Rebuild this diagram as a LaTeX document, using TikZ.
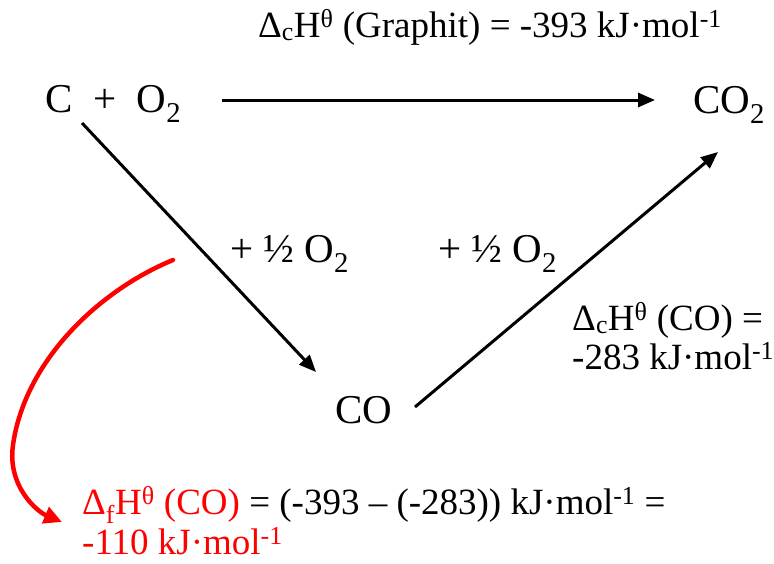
\documentclass[tikz,border=0pt]{standalone}
\usepackage{fontspec}
\setmainfont{Liberation Serif}
\usepackage{xcolor}
\definecolor{penred}{RGB}{255, 0, 0}
\usepackage{tikz}
\usetikzlibrary{arrows.meta}
\tikzset{
  chem/.style={inner sep=0pt, anchor=base west,
    font=\fontsize{41}{48}\selectfont},
  enthalpy/.style={inner sep=0pt, anchor=base west,
    font=\fontsize{37}{44}\selectfont},
  rxnarrow/.style={-{Triangle[length=17pt,width=14pt]}, line width=3pt, black},
  penarrow/.style={-{Triangle[length=18pt,width=17pt]}, line width=4.5pt,
    color=penred, line cap=round, line join=round}
}

\begin{document}
\begin{tikzpicture}[x=1pt, y=-1pt]

  \useasboundingbox (0,0) rectangle (774,563);

  % Species
  \node[chem] (reac) at (45,112)  {C~~+~~O\textsubscript{2}};
  \node[chem] (prod) at (693,113) {CO\textsubscript{2}};
  \node[chem] (mid)  at (335,423) {CO};

  % Enthalpies and reagents
  \node[enthalpy] (dHgr) at (258,37)
    {Δ\textsubscript{c}H\textsuperscript{θ} (Graphit) = -393 kJ·mol\textsuperscript{-1}};
  \node[chem] (oxa) at (230,262) {+ ½ O\textsubscript{2}};
  \node[chem] (oxb) at (438,262) {+ ½ O\textsubscript{2}};
  \node[enthalpy] (dHco) at (572,330)
    {Δ\textsubscript{c}H\textsuperscript{θ} (CO) =};
  \node[enthalpy] (dHcoval) at (572,369) {-283 kJ·mol\textsuperscript{-1}};

  % Result
  \node[enthalpy] (dHf) at (82,514)
    {\textcolor{penred}{Δ\textsubscript{f}H\textsuperscript{θ} (CO)} = (-393 – (-283)) kJ·mol\textsuperscript{-1} =};
  \node[enthalpy, text=penred] (dHfval) at (82,554) {-110 kJ·mol\textsuperscript{-1}};

  % Direct route
  \draw[rxnarrow] ([shift={(177,-12)}]reac.base west) -- ([shift={(-38,-13)}]prod.base west);

  % Route over CO
  \draw[rxnarrow] ([shift={(37,11)}]reac.base west) -- ([shift={(-19,-51)}]mid.base west);
  \draw[rxnarrow] ([shift={(80,-16)}]mid.base west) -- ([shift={(25,39)}]prod.base west);

  % Hand-drawn hint to the result
  \coordinate (hint) at (173,260);
  \draw[penarrow] (hint) .. controls (100,290) and (25,360) .. (13,445)
    .. controls (7,487) and (38,512) .. ([shift={(-20,8)}]dHf.base west);

\end{tikzpicture}
\end{document}
